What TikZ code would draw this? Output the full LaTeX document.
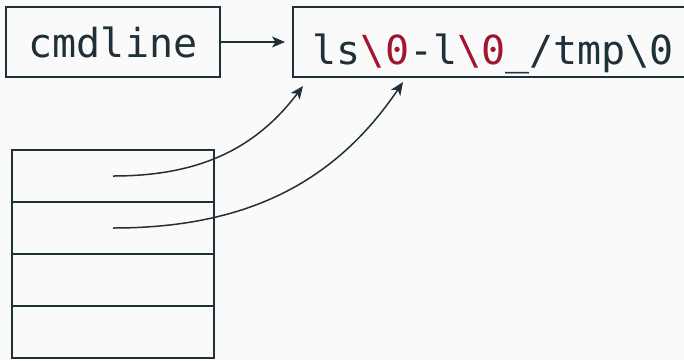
\documentclass[tikz,border=0pt]{standalone}
\usepackage{fontspec}
\setmonofont{DejaVu Sans Mono}
\usetikzlibrary{arrows.meta}

\definecolor{fg}{HTML}{1F3039}
\definecolor{nul}{HTML}{A0162E}
\definecolor{bg}{HTML}{FAFAFA}

\newcommand{\nulchar}{\textcolor{nul}{\textbackslash 0}}

\begin{document}
\begin{tikzpicture}[x=1pt, y=1pt, line width=1.5pt, draw=fg,
  box/.style={draw, rectangle, inner ysep=12pt, text=fg,
    font=\ttfamily\fontsize{40}{48}\selectfont},
  cell/.style={draw, rectangle, minimum width=202pt, minimum height=52pt, inner sep=0pt},
  arr/.style={-{Stealth[length=13pt, width=11pt, inset=3.5pt]}}]

\useasboundingbox (0,0) rectangle (684,-360);
\clip (0,0) rectangle (684,-360);
\fill[bg] (0,0) rectangle (684,-360);

% Caixa cmdline
\node (cmd) [box, minimum width=214pt, text height=38pt, text depth=8pt] at (113,-42) {cmdline};

% Caixa com a string
\node (str) [box, inner xsep=20pt, text height=45pt, text depth=1pt, anchor=west] at (292,-42)
  {ls\nulchar-l\nulchar\_/tmp\textbackslash 0};

% Seta cmdline -> string
\path[draw,arr,shorten >=7pt] (cmd) -- (str);

% Vetor de ponteiros
\foreach \i in {1,...,4}
  \node (c\i) [cell] at (113,{-176-(\i-1)*52}) {};

% Pontos de chegada
\coordinate (arg0) at (303,-86);
\coordinate (arg1) at (403,-82);

% Setas curvas
\path[draw,arr] (c1.center) to[out=0, in=233] (arg0);
\path[draw,arr] (c2.center) to[out=0, in=236] (arg1);

\end{tikzpicture}
\end{document}
